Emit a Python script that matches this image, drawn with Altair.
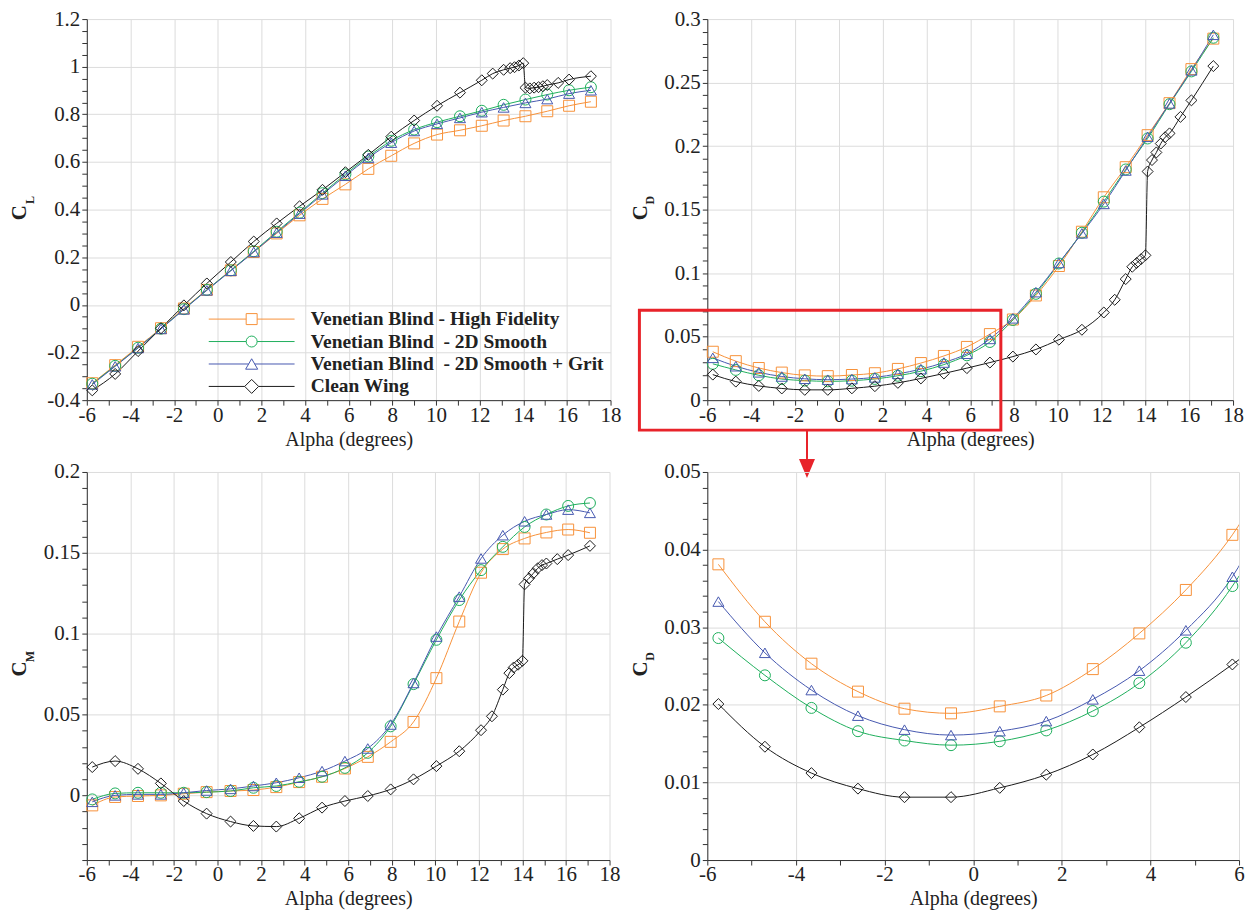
import altair as alt
import pandas as pd

# ---------------- data ----------------
SERIES = ["Venetian Blind - High Fidelity",
          "Venetian Blind\u00a0 - 2D Smooth",
          "Venetian Blind\u00a0 - 2D Smooth + Grit",
          "Clean Wing"]
COLORS = ["#F7923A", "#1FAF5C", "#4658B0", "#1a1a1a"]
SHAPES = ["square", "circle", "triangle-up", "diamond"]
SIZES = [121, 121, 150, 196]

ALPHA = [-5.75, -4.7, -3.65, -2.6, -1.55, -0.5, 0.6, 1.65, 2.7, 3.75, 4.8, 5.85,
         6.9, 7.95, 9.0, 10.05, 11.1, 12.1, 13.1, 14.1, 15.1, 16.1, 17.1]
ALPHA_CLEAN = [-5.75, -4.7, -3.65, -2.6, -1.55, -0.5, 0.6, 1.65, 2.7, 3.75, 4.8, 5.85,
               6.9, 7.95, 9.0, 10.05, 11.1, 12.1, 12.6, 13.1, 13.4, 13.6, 13.8, 14.0,
               14.1, 14.3, 14.5, 14.7, 14.9, 15.1, 15.6, 16.1, 17.1]

CL_HF = [-0.329, -0.253, -0.176, -0.098, -0.015, 0.063, 0.145, 0.222, 0.300, 0.376, 0.445, 0.506,
         0.571, 0.626, 0.678, 0.715, 0.733, 0.752, 0.774, 0.792, 0.813, 0.836, 0.853]
CL_2D = [-0.331, -0.256, -0.180, -0.100, -0.018, 0.063, 0.145, 0.225, 0.307, 0.387, 0.469, 0.548,
         0.623, 0.689, 0.736, 0.767, 0.792, 0.815, 0.840, 0.862, 0.883, 0.901, 0.914]
CL_GRIT = [-0.334, -0.258, -0.181, -0.101, -0.019, 0.061, 0.143, 0.222, 0.303, 0.383, 0.464, 0.542,
           0.617, 0.681, 0.730, 0.760, 0.785, 0.809, 0.829, 0.848, 0.864, 0.887, 0.901]
CL_CLEAN = [-0.359, -0.290, -0.194, -0.098, -0.002, 0.090, 0.180, 0.266, 0.342, 0.414, 0.483, 0.557,
            0.630, 0.706, 0.774, 0.836, 0.891, 0.943, 0.971, 0.987, 0.994, 0.998, 1.005, 1.015,
            0.912, 0.909, 0.912, 0.914, 0.918, 0.923, 0.932, 0.946, 0.960]

CD_HF = [0.0381, 0.0307, 0.0253, 0.0217, 0.0195, 0.0189, 0.0198, 0.0212, 0.0246, 0.0292, 0.0348, 0.0419,
         0.0520, 0.0635, 0.0824, 0.1056, 0.1326, 0.1597, 0.1834, 0.2086, 0.2338, 0.2606, 0.2846]
CD_2D = [0.0286, 0.0238, 0.0196, 0.0166, 0.0154, 0.0148, 0.0153, 0.0167, 0.0192, 0.0228, 0.0280, 0.0353,
         0.0458, 0.0631, 0.0837, 0.1076, 0.1318, 0.1563, 0.1816, 0.2060, 0.2330, 0.2588, 0.2853]
CD_GRIT = [0.0333, 0.0267, 0.0219, 0.0186, 0.0168, 0.0161, 0.0166, 0.0179, 0.0207, 0.0244, 0.0296, 0.0365,
           0.0482, 0.0644, 0.0850, 0.1080, 0.1313, 0.1545, 0.1808, 0.2073, 0.2336, 0.2596, 0.2876]
CD_CLEAN = [0.0201, 0.0146, 0.0112, 0.0092, 0.0081, 0.0081, 0.0093, 0.0110, 0.0136, 0.0171, 0.0210, 0.0252,
            0.0296, 0.0343, 0.0399, 0.0476, 0.0554, 0.0690, 0.0790, 0.0953, 0.1050, 0.1080, 0.1110, 0.1140,
            0.1800, 0.1890, 0.1950, 0.2020, 0.2070, 0.2100, 0.2230, 0.2360, 0.2630]

CM_HF = [-0.0062, -0.0010, -0.0004, 0.0000, 0.0010, 0.0020, 0.0027, 0.0033, 0.0051, 0.0082, 0.0115, 0.0166,
         0.0238, 0.0331, 0.0454, 0.0725, 0.1075, 0.1377, 0.1523, 0.1589, 0.1626, 0.1644, 0.1624]
CM_2D = [-0.0025, 0.0012, 0.0016, 0.0016, 0.0016, 0.0020, 0.0027, 0.0047, 0.0058, 0.0084, 0.0115, 0.0170,
         0.0263, 0.0427, 0.0688, 0.0962, 0.1208, 0.1393, 0.1537, 0.1660, 0.1737, 0.1790, 0.1808]
CM_GRIT = [-0.0040, 0.0000, 0.0006, 0.0006, 0.0016, 0.0030, 0.0040, 0.0058, 0.0078, 0.0109, 0.0150, 0.0212,
           0.0290, 0.0438, 0.0695, 0.0982, 0.1229, 0.1465, 0.1609, 0.1695, 0.1737, 0.1767, 0.1747]
CM_CLEAN = [0.0175, 0.0212, 0.0164, 0.0074, -0.0035, -0.0113, -0.0162, -0.0189, -0.0193, -0.0142, -0.0076, -0.0035,
            -0.0004, 0.0037, 0.0099, 0.0181, 0.0273, 0.0403, 0.0489, 0.0654, 0.0756, 0.0791, 0.0808, 0.0832,
            0.1305, 0.1342, 0.1373, 0.1404, 0.1424, 0.1434, 0.1461, 0.1486, 0.1543]

# zoom-region annotation (in alpha / CD units of the top-right panel)
ZOOM_BOX = {"x0": -9.1, "x1": 7.4, "y0": -0.0236, "y1": 0.0707}
ARROW = {"x": -1.45, "y0": -0.0236, "y1": -0.0463, "head": -0.0538}

SERIF = "Liberation Serif"
RED = "#E8232A"
LEGEND_PATHS = [
    "M-7.82,0H-1M1,0H7.82M-1,-1H1V1H-1Z",
    "M-7.82,0H-1M1,0H7.82M1,0A1,1,0,1,1,-1,0A1,1,0,1,1,1,0Z",
    "M-7.82,0H-0.55M0.55,0H7.82M0,-0.95L1.1,0.95H-1.1Z",
    "M-7.82,0H-1.27M1.27,0H7.82M-1.27,0L0,-1.27L1.27,0L0,1.27Z",
]


def long_df(hf, d2, grit, clean):
    frames = []
    for name, xs, ys in zip(SERIES, [ALPHA, ALPHA, ALPHA, ALPHA_CLEAN], [hf, d2, grit, clean]):
        frames.append(pd.DataFrame({"alpha": xs, "value": ys, "series": name}))
    return pd.concat(frames, ignore_index=True)


def ticks(lo, hi, step):
    n = int(round((hi - lo) / step))
    return [round(lo + i * step, 6) for i in range(n + 1)]


def major(step):
    return f"abs(datum.value / {step} - round(datum.value / {step})) < 1e-6"


def x_axis(lo, hi):
    return alt.Axis(values=ticks(lo, hi, 1), labelExpr=f"{major(2)} ? '' + datum.value : ''",
                    gridOpacity={"condition": {"test": major(2), "value": 1}, "value": 0},
                    labelFlush=False, labelOverlap=False, labelBaseline="alphabetic", labelPadding=16,
                    title="Alpha (degrees)", titleY=45, titleBaseline="alphabetic", titleFontSize=20)


def y_axis(lo, hi, step, mstep, h):
    return alt.Axis(values=ticks(lo, hi, step), labelExpr=f"{major(mstep)} ? '' + datum.value : ''",
                    gridOpacity={"condition": {"test": major(mstep), "value": 1}, "value": 0},
                    labelFlush=False, labelOverlap=False,
                    title="C", titleAngle=270, titleX=-61, titleY=h / 2 + 2.5, titleAlign="center",
                    titleBaseline="alphabetic", titleFontWeight="bold")


def panel(df, xdom, ydom, ystep, ymajor, w, h, sub, clip=False, legend=False, extra=None):
    xs = alt.Scale(domain=xdom, nice=False, zero=False)
    ys = alt.Scale(domain=ydom, nice=False, zero=False)
    xa = x_axis(*xdom)
    ya = y_axis(ydom[0], ydom[1], ystep, ymajor, h)
    x = alt.X("alpha:Q", scale=xs, axis=xa)
    y = alt.Y("value:Q", scale=ys, axis=ya)
    color = alt.Color("series:N", scale=alt.Scale(domain=SERIES, range=COLORS), legend=None)
    base = alt.Chart(df)
    lines = base.mark_line(interpolate="monotone", strokeWidth=1, clip=clip).encode(x=x, y=y, color=color)
    points = base.mark_point(filled=False, strokeWidth=1, opacity=1, clip=clip).encode(
        x=x, y=y, color=color,
        shape=alt.Shape("series:N", scale=alt.Scale(domain=SERIES, range=SHAPES), legend=None),
        size=alt.Size("series:O", scale=alt.Scale(domain=SERIES, range=SIZES), legend=None))
    subtxt = alt.Chart(pd.DataFrame({"t": [sub]})).mark_text(
        angle=270, font=SERIF, fontWeight="bold", fontSize=12, align="center",
        baseline="alphabetic", color="#222").encode(
        x=alt.value(-53), y=alt.value(h / 2 - 9.5), text="t:N")
    layers = [lines, points, subtxt]
    if legend:
        leg = alt.Legend(orient="none", legendX=118, legendY=291, title=None, padding=0,
                         labelFont=SERIF, labelFontSize=19.5, labelFontWeight="bold", labelColor="#222",
                         labelOffset=49.5, labelLimit=600, symbolOffset=37.5, symbolSize=121,
                         symbolStrokeWidth=1, symbolOpacity=1, rowPadding=1.5)
        lg = alt.Chart(pd.DataFrame({"series": SERIES})).mark_point(filled=False, opacity=0).encode(
            color=alt.Color("series:N", scale=alt.Scale(domain=SERIES, range=COLORS), legend=leg),
            shape=alt.Shape("series:N", scale=alt.Scale(domain=SERIES, range=LEGEND_PATHS), legend=leg))
        layers.append(lg)
    if extra:
        layers += extra(xs, ys, xa, ya)
    ch = alt.layer(*layers).properties(width=w, height=h)
    if legend:
        ch = ch.resolve_scale(color="independent", shape="independent")
    return ch


def zoom_annotation(xs, ys, xa, ya):
    box = alt.Chart(pd.DataFrame([ZOOM_BOX])).mark_rect(
        fillOpacity=0, stroke=RED, strokeWidth=3, clip=False).encode(
        x=alt.X("x0:Q", scale=xs, axis=xa), x2="x1:Q",
        y=alt.Y("y0:Q", scale=ys, axis=ya), y2="y1:Q")
    adf = pd.DataFrame([ARROW])
    shaft = alt.Chart(adf).mark_rule(color=RED, strokeWidth=2, clip=False).encode(
        x=alt.X("x:Q", scale=xs, axis=xa),
        y=alt.Y("y0:Q", scale=ys, axis=ya), y2="y1:Q")
    head = alt.Chart(adf).mark_point(shape="M-1,-1.2L1,-1.2L0,1.2Z", filled=True, color=RED,
                                     size=256, opacity=1, clip=False).encode(
        x=alt.X("x:Q", scale=xs, axis=xa),
        y=alt.Y("head:Q", scale=ys, axis=ya))
    return [box, shaft, head]


cl_df = long_df(CL_HF, CL_2D, CL_GRIT, CL_CLEAN)
cd_df = long_df(CD_HF, CD_2D, CD_GRIT, CD_CLEAN)
cm_df = long_df(CM_HF, CM_2D, CM_GRIT, CM_CLEAN)

p1 = panel(cl_df, [-6, 18], [-0.4, 1.2], 0.05, 0.2, 525, 382, "L", legend=True)
p2 = panel(cd_df, [-6, 18], [0, 0.3], 0.01, 0.05, 527, 382, "D", extra=zoom_annotation)
p3 = panel(cm_df, [-6, 18], [-0.04, 0.2], 0.01, 0.05, 524, 389, "M")
p4 = panel(cd_df, [-6, 6], [0, 0.05], 0.002, 0.01, 533, 389, "D", clip=True)

chart = alt.concat(
    p1, p2, p3, p4, columns=2, spacing={"row": 72, "column": 97}, bounds="flush",
).properties(
    padding={"left": 1, "top": -1, "right": 5, "bottom": 5},
    background="white",
).configure_view(strokeWidth=0).configure_axis(
    domainColor="#333", tickColor="#333", gridColor="#dcdcdc", gridWidth=1,
    domainWidth=1, tickWidth=1, tickSize=5,
    labelFont=SERIF, labelFontSize=21, labelColor="#222", labelPadding=2,
    titleFont=SERIF, titleFontSize=21, titleColor="#222", titleFontWeight="normal",
)

chart.save("out.html", embed_options={"renderer": "svg", "actions": False})
